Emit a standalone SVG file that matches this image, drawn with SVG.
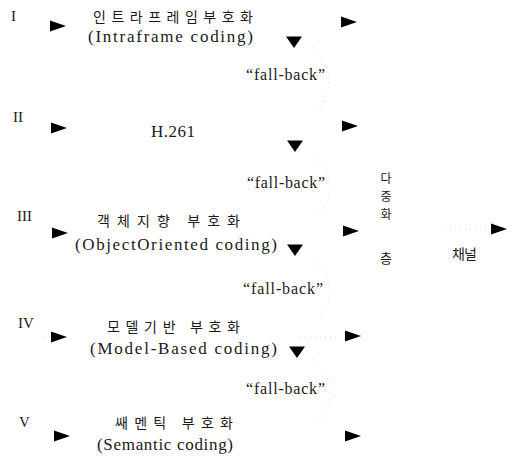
<svg xmlns="http://www.w3.org/2000/svg" width="516" height="462" viewBox="0 0 516 462">
  <defs>
    <style>
      .num { font-family: "Liberation Serif", "Times New Roman", serif; font-size: 15px; fill: #1a1a1a; }
      .ko { font-family: "Noto Sans CJK KR", "Liberation Serif", sans-serif; font-size: 14px; fill: #1a1a1a; }
      .en { font-family: "Liberation Serif", "Times New Roman", serif; font-size: 17px; fill: #1a1a1a; }
      .fb { font-family: "Liberation Serif", "Times New Roman", serif; font-size: 16px; fill: #1a1a1a; }
      .head { fill: #000; }
      .faint { fill: none; stroke: #d6d6d6; stroke-width: 1; stroke-dasharray: 1 4; }
    </style>
    <polygon id="right" class="head" points="0,-5.5 16,0 0,5.5"/>
    <polygon id="down" class="head" points="-8,-5.5 8,-5.5 0,6"/>
  </defs>

  <!-- connectors: faint fall-back arcs and feed lines -->
  <g id="connectors">
    <path class="faint" d="M312 47 Q345 80 315 113"/>
    <path class="faint" d="M312 153 Q345 185 318 215"/>
    <path class="faint" d="M312 257 Q345 290 318 318"/>
    <path class="faint" d="M312 359 Q348 390 315 424"/>
    <path class="faint" d="M300 337 L338 337"/>
    <path class="faint" d="M44 337 L50 337"/>
    <path class="faint" d="M445 229 L490 229"/>
  </g>

  <!-- level I -->
  <g id="level-1">
    <text class="num" x="11" y="21">I</text>
    <use href="#right" x="50" y="26"/>
    <text class="ko" x="93" y="22" textLength="160" lengthAdjust="spacing">인트라프레임부호화</text>
    <text class="en" x="88" y="42" textLength="165" lengthAdjust="spacing">(Intraframe coding)</text>
    <use href="#down" x="294" y="42"/>
    <use href="#right" x="341" y="22"/>
  </g>
  <text class="fb" x="246" y="80" textLength="79" lengthAdjust="spacing">“fall-back”</text>

  <!-- level II -->
  <g id="level-2">
    <text class="num" x="13" y="122">II</text>
    <use href="#right" x="51" y="128"/>
    <text class="en" x="151" y="137" textLength="44" lengthAdjust="spacing">H.261</text>
    <use href="#down" x="295" y="146"/>
    <use href="#right" x="342" y="126"/>
  </g>
  <text class="fb" x="247" y="188" textLength="78" lengthAdjust="spacing">“fall-back”</text>

  <!-- level III -->
  <g id="level-3">
    <text class="num" x="17" y="221">III</text>
    <use href="#right" x="52" y="233"/>
    <text class="ko" x="97" y="226" textLength="143" lengthAdjust="spacing">객체지향 부호화</text>
    <text class="en" x="75" y="250" textLength="202" lengthAdjust="spacing">(ObjectOriented coding)</text>
    <use href="#down" x="295" y="250"/>
    <use href="#right" x="343" y="231"/>
  </g>
  <text class="fb" x="243" y="294" textLength="80" lengthAdjust="spacing">“fall-back”</text>

  <!-- level IV -->
  <g id="level-4">
    <text class="num" x="18" y="328">IV</text>
    <use href="#right" x="51" y="337"/>
    <text class="ko" x="107" y="332" textLength="133" lengthAdjust="spacing">모델기반 부호화</text>
    <text class="en" x="90" y="354" textLength="187" lengthAdjust="spacing">(Model-Based coding)</text>
    <use href="#down" x="297" y="352"/>
    <use href="#right" x="345" y="336"/>
  </g>
  <text class="fb" x="246" y="394" textLength="79" lengthAdjust="spacing">“fall-back”</text>

  <!-- level V -->
  <g id="level-5">
    <text class="num" x="19" y="427">V</text>
    <use href="#right" x="54" y="436"/>
    <text class="ko" x="115" y="428" textLength="118" lengthAdjust="spacing">쌔멘틱 부호화</text>
    <text class="en" x="97" y="450" textLength="136" lengthAdjust="spacing">(Semantic coding)</text>
    <use href="#right" x="345" y="436"/>
  </g>

  <!-- multiplexing layer -->
  <g id="mux" class="ko" text-anchor="middle" font-size="12">
    <text x="386" y="183" style="font-size:12px">다</text>
    <text x="386" y="201" style="font-size:12px">중</text>
    <text x="386" y="219" style="font-size:12px">화</text>
    <text x="386" y="263" style="font-size:13px">층</text>
  </g>

  <!-- channel -->
  <g id="channel">
    <use href="#right" x="491" y="229"/>
    <text class="ko" x="452" y="259" textLength="25" lengthAdjust="spacing">채널</text>
  </g>
</svg>
